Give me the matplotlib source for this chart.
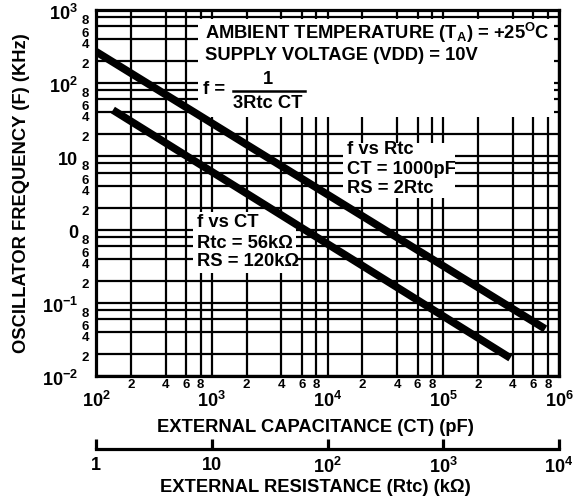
import matplotlib
matplotlib.use('Agg')
import matplotlib.pyplot as plt
from matplotlib.ticker import FixedLocator, FixedFormatter, NullFormatter
from matplotlib.patches import Rectangle
from matplotlib.lines import Line2D
from matplotlib.transforms import ScaledTranslation

plt.rcParams['font.family'] = ['Liberation Sans', 'DejaVu Sans']
plt.rcParams['font.weight'] = 'bold'
plt.rcParams['mathtext.fontset'] = 'custom'
plt.rcParams['mathtext.rm'] = 'Liberation Sans:bold'
plt.rcParams['mathtext.it'] = 'Liberation Sans:bold'
plt.rcParams['mathtext.bf'] = 'Liberation Sans:bold'
plt.rcParams['mathtext.sf'] = 'Liberation Sans:bold'
plt.rcParams['mathtext.default'] = 'rm'

# ---------------- data ----------------
# f vs Rtc (CT = 1000 pF), plotted on the CT scale (Rtc scale = CT/100)
rtc_line_x = [100, 7.6e5]
rtc_line_f = [270, 0.044]
# f vs CT (Rtc = 56 kOhm)
ct_line_x = [140, 3.8e5]
ct_line_f = [43, 0.0176]

x_major = [1e2, 1e3, 1e4, 1e5, 1e6]
x_major_labels = ['$10^{2}$', '$10^{3}$', '$10^{4}$', '$10^{5}$', '$10^{6}$']
y_major = [1e-2, 1e-1, 1e0, 1e1, 1e2, 1e3]
y_major_labels = ['$10^{-2}$', '$10^{-1}$', '0', '10', '$10^{2}$', '$10^{3}$']
minor_mult = [2, 4, 6, 8]
minor_labels = ['2', '4', '6', '8']
r_ticks = [1, 10, 100, 1000, 10000]
r_labels = ['1', '10', '$10^{2}$', '$10^{3}$', '$10^{4}$']

# ---------------- layout ----------------
W, H = 584, 497
def fx(x):
    return x / W
def fy(y):
    return 1 - y / H

fig = plt.figure(figsize=(W / 100, H / 100), dpi=100)
L, R, T, B = 96, 559, 10, 376
ax = fig.add_axes([fx(L), fy(B), (R - L) / W, (B - T) / H])
ax.set_xscale('log')
ax.set_yscale('log')
ax.set_xlim(1e2, 1e6)
ax.set_ylim(1e-2, 1e3)

decades_x = range(2, 6)
decades_y = range(-2, 3)
x_minor = [m * 10 ** d for d in decades_x for m in minor_mult]
y_minor = [m * 10.0 ** d for d in decades_y for m in minor_mult]
ax.xaxis.set_major_locator(FixedLocator(x_major))
ax.xaxis.set_major_formatter(FixedFormatter(x_major_labels))
ax.xaxis.set_minor_locator(FixedLocator(x_minor))
ax.xaxis.set_minor_formatter(FixedFormatter(minor_labels * len(decades_x)))
ax.yaxis.set_major_locator(FixedLocator(y_major))
ax.yaxis.set_major_formatter(NullFormatter())
ax.yaxis.set_minor_locator(FixedLocator(y_minor))
ax.yaxis.set_minor_formatter(NullFormatter())

ax.tick_params(which='both', length=0)
ax.tick_params(axis='x', which='major', pad=11, labelsize=13)
ax.tick_params(axis='x', which='minor', pad=2, labelsize=9.5)

# y tick labels placed like the reference (slightly below their lines)
ytrans = ax.get_yaxis_transform()
def off(dx, dy):
    return ytrans + ScaledTranslation(dx / 100, -dy / 100, fig.dpi_scale_trans)
for v, lab in zip(y_major, y_major_labels):
    ax.text(0, v, lab, transform=off(-18, 4), ha='right', va='center',
            fontsize=13, fontweight='bold', clip_on=False)
minor_shift = {2: 4, 4: 6, 6: 8, 8: 4}
for d in decades_y:
    for m, lab in zip(minor_mult, minor_labels):
        ax.text(0, m * 10.0 ** d, lab, transform=off(-7, minor_shift[m]), ha='right',
                va='center', fontsize=9.5, fontweight='bold', clip_on=False)

ax.grid(which='both', color='black', lw=1.6)
ax.set_axisbelow(True)
for s in ax.spines.values():
    s.set_linewidth(2.3)
    s.set_zorder(5)

# white boxes that hide the grid under the annotations
boxes = [(198, 19, 554, 117), (343, 143, 455, 198), (193, 212, 296, 273)]
for x0, y0, x1, y1 in boxes:
    ax.add_patch(Rectangle((fx(x0), fy(y1)), (x1 - x0) / W, (y1 - y0) / H,
                           transform=fig.transFigure, facecolor='white',
                           edgecolor='none', zorder=1.8))

# curves
ax.plot(rtc_line_x, rtc_line_f, color='black', lw=5.5, solid_capstyle='butt', zorder=3)
ax.plot(ct_line_x, ct_line_f, color='black', lw=5.5, solid_capstyle='butt', zorder=3)

# annotation text
fs = 13.2
def t(x, y, s, **kw):
    kw.setdefault('ha', 'left')
    kw.setdefault('va', 'center')
    ax.text(fx(x), fy(y), s, transform=fig.transFigure, fontsize=kw.pop('size', fs),
            fontweight='bold', zorder=4, **kw)

t(205, 33, 'AMBIENT TEMPERATURE (T$_{A}$) = +25$^{O}$C')
t(205, 56, 'SUPPLY VOLTAGE (VDD) = 10V')
t(203, 90, 'f =')
t(268, 79, '1', ha='center')
t(268, 103, '3Rtc CT', ha='center')
ax.add_line(Line2D([fx(233), fx(305)], [fy(91), fy(91)], transform=fig.transFigure,
                   color='black', lw=1.8, zorder=4))

t(347, 150, 'f vs Rtc')
t(347, 170, 'CT = 1000pF')
t(347, 189, 'RS = 2Rtc')

t(197, 223, 'f vs CT')
t(197, 243, 'Rtc = 56k\u03a9')
t(197, 262, 'RS = 120k\u03a9')

# axis titles
fig.text(fx(315), fy(428), 'EXTERNAL CAPACITANCE (CT) (pF)', ha='center', va='center',
         fontsize=13.2, fontweight='bold')
fig.text(fx(22), fy(193), 'OSCILLATOR FREQUENCY (F) (KHz)', ha='center', va='center',
         rotation=90, fontsize=13.2, fontweight='bold')
fig.text(fx(315), fy(488), 'EXTERNAL RESISTANCE (Rtc) (k\u03a9)', ha='center', va='center',
         fontsize=13.2, fontweight='bold')

# secondary resistance scale
ax2 = fig.add_axes([fx(L), fy(449), (R - L) / W, 0.0005])
ax2.set_xscale('log')
ax2.set_xlim(1, 1e4)
ax2.patch.set_visible(False)
for k in ['top', 'left', 'right']:
    ax2.spines[k].set_visible(False)
ax2.spines['bottom'].set_linewidth(2.3)
ax2.set_yticks([])
ax2.xaxis.set_major_locator(FixedLocator(r_ticks))
ax2.xaxis.set_major_formatter(FixedFormatter(r_labels))
ax2.xaxis.set_minor_locator(FixedLocator([]))
ax2.tick_params(axis='x', which='major', direction='in', length=7.5, width=2.3,
                pad=6, labelsize=13)

fig.savefig('out.png', dpi=100)
